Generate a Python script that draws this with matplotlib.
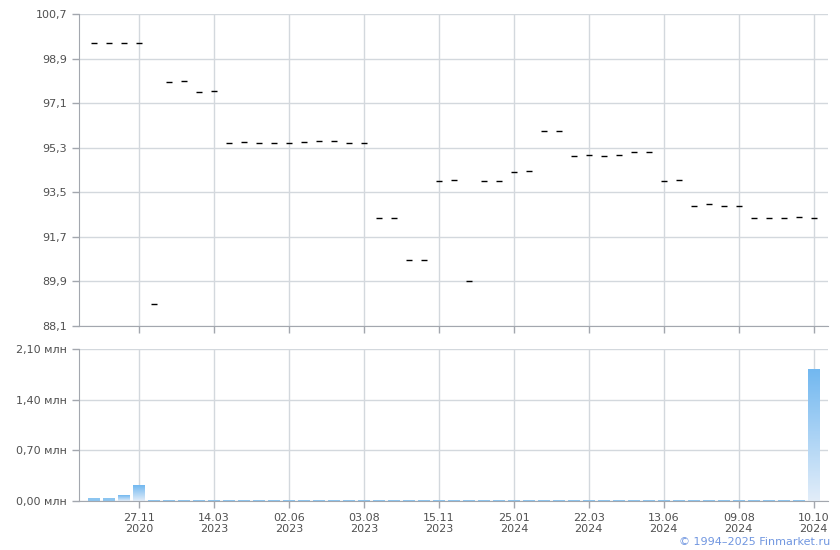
import numpy as np
import matplotlib
matplotlib.use("Agg")
import matplotlib.pyplot as plt
from matplotlib.colors import LinearSegmentedColormap

# Цены (дневные значения), читаем с картинки
prices = [99.53, 99.53, 99.53, 99.53, 88.98, 97.95, 97.99, 97.54, 97.59,
          95.48, 95.52, 95.48, 95.48, 95.48, 95.52, 95.56, 95.56, 95.48, 95.48,
          92.45, 92.45, 90.76, 90.76, 93.94, 93.98, 89.90, 93.94, 93.94,
          94.31, 94.35, 95.97, 95.97, 94.96, 95.02, 94.96, 95.02, 95.13, 95.13,
          93.94, 93.98, 92.93, 93.01, 92.93, 92.93, 92.45, 92.45, 92.45, 92.49, 92.45]

# Объём торгов, млн
volumes = [0.04, 0.04, 0.07, 0.22] + [0.015] * 44 + [1.81]

tick_idx = [3, 8, 13, 18, 23, 28, 33, 38, 43, 48]
tick_labels = ["27.11\n2020", "14.03\n2023", "02.06\n2023", "03.08\n2023",
               "15.11\n2023", "25.01\n2024", "22.03\n2024", "13.06\n2024",
               "09.08\n2024", "10.10\n2024"]

price_ticks = [88.1, 89.9, 91.7, 93.5, 95.3, 97.1, 98.9, 100.7]
vol_ticks = [0.0, 0.7, 1.4, 2.1]

x = np.arange(len(prices))
grid_c = "#d3d8dd"
spine_c = "#a3a7ae"
text_c = "#505050"

fig = plt.figure(figsize=(8.4, 5.5), dpi=100)
ax1 = fig.add_axes([0.094, 0.4073, 0.8917, 0.5672])
ax2 = fig.add_axes([0.094, 0.0891, 0.8917, 0.2764])

for ax in (ax1, ax2):
    ax.set_xlim(-1, 48.95)
    ax.set_xticks(tick_idx)
    ax.grid(True, color=grid_c, linewidth=1)
    ax.set_axisbelow(True)
    for s in ("top", "right"):
        ax.spines[s].set_visible(False)
    for s in ("left", "bottom"):
        ax.spines[s].set_color(spine_c)
    ax.tick_params(colors=spine_c, labelcolor=text_c, labelsize=8, length=5, width=1)

# верхняя панель: цены
ax1.plot(x, prices, linestyle="none", marker="_", markersize=5, mew=1.0, color="black")
ax1.set_ylim(88.1, 100.7)
ax1.set_yticks(price_ticks)
ax1.set_yticklabels([f"{v:.1f}".replace(".", ",") for v in price_ticks])
ax1.set_xticklabels([])

# нижняя панель: объёмы с градиентной заливкой
cmap = LinearSegmentedColormap.from_list("vol", ["#e2edf9", "#72b8f0"])
grad = np.linspace(0, 1, 100).reshape(-1, 1)
w = 0.78
for xi, v in zip(x, volumes):
    if v < 0.05:
        ax2.bar(xi, v, width=w, color="#8cc5f0", zorder=2)
    else:
        ax2.imshow(grad, extent=(xi - w / 2, xi + w / 2, 0, v), origin="lower",
                   aspect="auto", cmap=cmap, zorder=2)
ax2.set_xlim(-1, 48.95)
ax2.set_ylim(0, 2.1)
ax2.set_yticks(vol_ticks)
ax2.set_yticklabels([f"{v:.2f} млн".replace(".", ",") for v in vol_ticks])
ax2.set_xticklabels(tick_labels, linespacing=1.15)

fig.text(0.988, 0.006, "© 1994–2025 Finmarket.ru", ha="right", va="bottom",
         fontsize=8, color="#7096e0")

plt.savefig("out.png", dpi=100)
